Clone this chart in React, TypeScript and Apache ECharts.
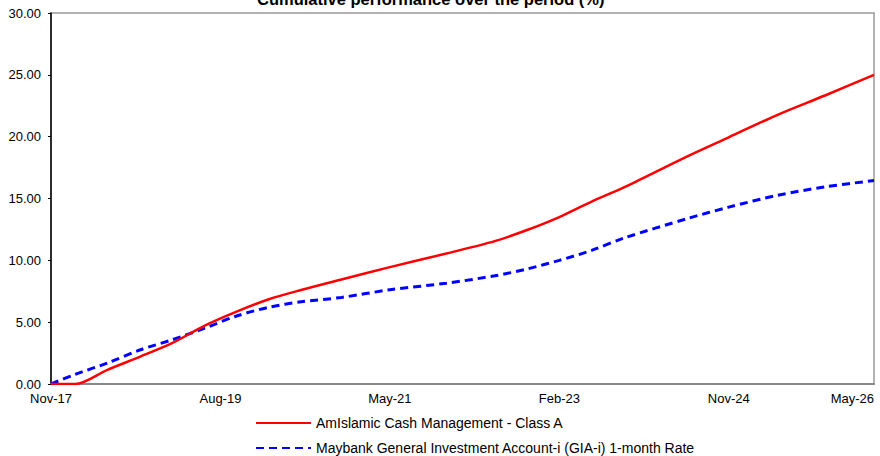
import React, { useEffect, useRef } from "react";
import * as echarts from "echarts";

const TITLE = "Cumulative performance over the period (%)";
const START_YEAR = 2017;
const START_MONTH = 10; // November (0-based)
const MONTH_NAMES = ["Jan", "Feb", "Mar", "Apr", "May", "Jun", "Jul", "Aug", "Sep", "Oct", "Nov", "Dec"];

const seriesNames = [
  "AmIslamic Cash Management - Class A",
  "Maybank General Investment Account-i (GIA-i) 1-month Rate",
];

// months elapsed since Nov-17
const monthIndex = [0, 3, 7, 11, 15, 19, 23, 27, 31, 36, 42, 49, 55, 59, 63, 67, 71, 79, 84, 90, 96, 102];
const fundValues = [0, 0, 1.15, 2.2, 3.3, 4.7, 5.85, 6.85, 7.6, 8.45, 9.45, 10.55, 11.55, 12.45, 13.5, 14.75, 15.9, 18.45, 19.95, 21.75, 23.35, 25.0];
const benchValues = [0, 0.78, 1.7, 2.75, 3.57, 4.5, 5.5, 6.2, 6.65, 7.0, 7.62, 8.15, 8.75, 9.3, 10.0, 10.8, 11.8, 13.4, 14.3, 15.25, 15.95, 16.45];

const yTicks = [0, 5, 10, 15, 20, 25, 30];

function monthLabel(i: number): string {
  const total = START_MONTH + Math.round(i);
  const y = START_YEAR + Math.floor(total / 12);
  const m = total % 12;
  return MONTH_NAMES[m] + "-" + String(y % 100).padStart(2, "0");
}

const FONT = "'Liberation Sans', Arial, Helvetica, sans-serif";

const legendBase = {
  orient: "horizontal",
  left: 250,
  itemWidth: 55,
  itemHeight: 14,
  itemStyle: { opacity: 0 },
  textStyle: { fontFamily: FONT, fontSize: 14, color: "#000" },
};

export default function App() {
  const ref = useRef<HTMLDivElement>(null);
  useEffect(() => {
    if (!ref.current) return;
    const chart = echarts.init(ref.current, undefined, { renderer: "svg" });
    chart.setOption({
      animation: false,
      backgroundColor: "#ffffff",
      textStyle: { fontFamily: FONT },
      title: {
        text: TITLE,
        left: 257,
        top: -10,
        padding: 0,
        textStyle: { fontFamily: FONT, fontSize: 16.5, fontWeight: "bold", color: "#000" },
      },
      legend: [
        { ...legendBase, top: 411, data: [seriesNames[0]] },
        { ...legendBase, top: 436, data: [seriesNames[1]] },
      ],
      grid: {
        left: 51,
        right: 6,
        top: 13,
        bottom: 72,
        show: true,
        borderColor: "#999999",
        borderWidth: 1.5,
        backgroundColor: "#ffffff",
      },
      xAxis: {
        type: "value",
        min: 0,
        max: 102,
        interval: 21,
        axisLine: { show: true, lineStyle: { color: "#888888", width: 2 } },
        axisTick: { show: false },
        splitLine: { show: false },
        axisLabel: {
          formatter: (v: number) => monthLabel(v),
          color: "#000",
          fontSize: 13,
          fontFamily: FONT,
          margin: 8,
          showMaxLabel: true,
          alignMaxLabel: "right",
        },
      },
      yAxis: {
        type: "value",
        min: yTicks[0],
        max: yTicks[yTicks.length - 1],
        interval: 5,
        axisLine: { show: true, lineStyle: { color: "#000", width: 1.5 } },
        axisTick: { show: true, length: 3, lineStyle: { color: "#000", width: 1 } },
        splitLine: { show: false },
        axisLabel: {
          formatter: (v: number) => v.toFixed(2),
          color: "#000",
          fontSize: 13,
          fontFamily: FONT,
          margin: 10,
        },
      },
      series: [
        {
          name: seriesNames[0],
          type: "line",
          data: monthIndex.map((m, i) => [m, fundValues[i]]),
          symbol: "none",
          smooth: 0.3,
          lineStyle: { color: "#ff0000", width: 2.5 },
          itemStyle: { color: "#ff0000" },
          z: 3,
        },
        {
          name: seriesNames[1],
          type: "line",
          data: monthIndex.map((m, i) => [m, benchValues[i]]),
          symbol: "none",
          smooth: 0.3,
          lineStyle: { color: "#0000ff", width: 3, type: [8, 5] },
          itemStyle: { color: "#0000ff" },
          z: 2,
        },
      ],
    });
    return () => chart.dispose();
  }, []);
  return (
    <div
      ref={ref}
      style={{ position: "absolute", left: 0, top: 0, width: 880, height: 456 }}
    />
  );
}
